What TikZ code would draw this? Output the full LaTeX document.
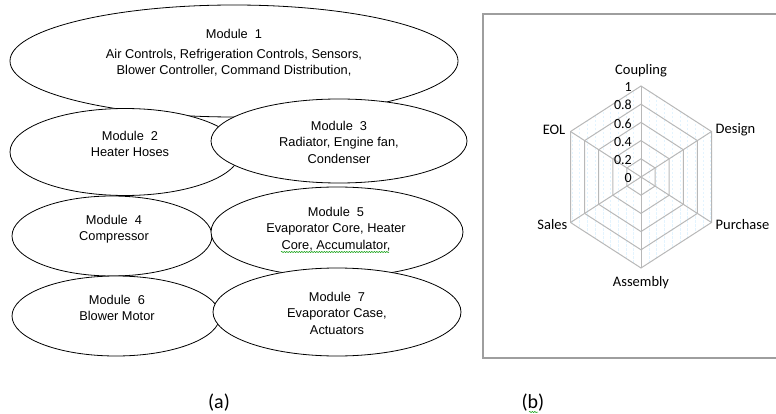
\documentclass[tikz,border=0pt]{standalone}
\usepackage{fontspec}
\setmainfont{Liberation Sans}
\newfontfamily\chartfont{Carlito}
\usetikzlibrary{shapes,decorations.pathmorphing,calc}
\tikzset{
  module/.style={draw, ellipse, fill=white, line width=0.8pt, inner sep=0pt},
  modtext/.style={align=center, font=\fontsize{12.8}{16.5}\selectfont},
  grid/.style={draw=black!28, line width=1pt},
  colline/.style={draw=blue!40!cyan!11, line width=0.6pt, dash pattern=on 2.5pt off 1.5pt},
  frame/.style={draw=black!38, line width=1.3pt},
  axislabel/.style={font=\chartfont\fontsize{14.5}{16}\selectfont, inner sep=1pt},
  ticklabel/.style={font=\chartfont\fontsize{14}{15}\selectfont, anchor=east, inner sep=1pt},
  caption/.style={font=\chartfont\fontsize{20}{22}\selectfont},
  squiggle/.style={draw=green!60!black, line width=0.5pt, decorate,
    decoration={snake, amplitude=0.6pt, segment length=2.5pt}},
}

\begin{document}
\begin{tikzpicture}[x=1pt, y=-1pt]
  \useasboundingbox (0,0) rectangle (776,414);

  % (a) modules
  \node[module, minimum width=448pt, minimum height=112pt] (m1) at (234,61) {};
  \node[module, minimum width=230pt, minimum height=87pt] (m2) at (125,152) {};
  \node[module, minimum width=256pt, minimum height=84pt] (m3) at (339,141) {};
  \node[module, minimum width=200pt, minimum height=80pt] (m4) at (112,236) {};
  \node[module, minimum width=252pt, minimum height=90pt] (m5) at (337,232) {};
  \node[module, minimum width=208pt, minimum height=80pt] (m6) at (116,316) {};
  \node[module, minimum width=248pt, minimum height=88pt] (m7) at (337,312) {};

  \node[modtext] (t1) at (234,53) {Module~~1\\[3pt]Air Controls, Refrigeration Controls, Sensors,\\Blower Controller, Command Distribution,};
  \node[modtext] (t2) at (130,144) {Module~~2\\Heater Hoses};
  \node[modtext] (t3) at (339,142) {Module~~3\\Radiator, Engine fan,\\Condenser};
  \node[modtext] (t4) at (114,229) {Module~~4\\Compressor};
  \node[modtext] (t5) at (336,229) {Module~~5\\Evaporator Core, Heater\\Core, Accumulator,};
  \node[modtext] (t6) at (117,308) {Module~~6\\Blower Motor};
  \node[modtext] (t7) at (337,313) {Module~~7\\Evaporator Case,\\Actuators};

  \draw[squiggle] (281,252) -- (389,252); % spell check mark

  % (b) radar chart
  \draw[frame] (483,14) rectangle (790,358);

  \newcommand\CX{641}
  \newcommand\CY{177}
  \newcommand\RX{81.4}
  \newcommand\RY{91}

  \coordinate (c) at (\CX,\CY);
  \foreach \i/\a in {1/90,2/30,3/-30,4/-90,5/-150,6/150}
    \coordinate (v\i) at ({\CX+\RX*cos(\a)},{\CY-\RY*sin(\a)});

  \begin{scope}
    \clip (v1) -- (v2) -- (v3) -- (v4) -- (v5) -- (v6) -- cycle;
    \foreach \k in {0,...,18}
      \draw[colline] ({572+7.7*\k},80) -- ++(0,200);
  \end{scope}

  \foreach \r in {0.2,0.4,0.6,0.8,1}
    \draw[grid] ({\CX},{\CY-\RY*\r})
      \foreach \a in {30,-30,-90,-150,150} { -- ({\CX+\RX*\r*cos(\a)},{\CY-\RY*\r*sin(\a)}) }
      -- cycle;
  \foreach \i in {1,...,6}
    \draw[grid] (c) -- (v\i);

  \foreach \r/\t [count=\k] in {0/0,0.2/0.2,0.4/0.4,0.6/0.6,0.8/0.8,1/1}
    \node[ticklabel] (tk\k) at ({\CX-8},{\CY+1-\RY*\r}) {\t};

  \node[axislabel] (coupling) at ($(v1)+(0,-15)$) {Coupling};
  \node[axislabel, anchor=west] (design) at ($(v2)+(3,-2)$) {Design};
  \node[axislabel, anchor=west] (purchase) at ($(v3)+(3,2)$) {Purchase};
  \node[axislabel] (assembly) at ($(v4)+(0,15)$) {Assembly};
  \node[axislabel, anchor=east] (sales) at ($(v5)+(-2,2)$) {Sales};
  \node[axislabel, anchor=east] (eol) at ($(v6)+(-4,-2)$) {EOL};

  % captions
  \node[caption] (capa) at (219,403) {(a)};
  \node[caption] (capb) at (533,403) {(b)};
  \draw[squiggle] (529,412) -- (538,412);

\end{tikzpicture}
\end{document}
